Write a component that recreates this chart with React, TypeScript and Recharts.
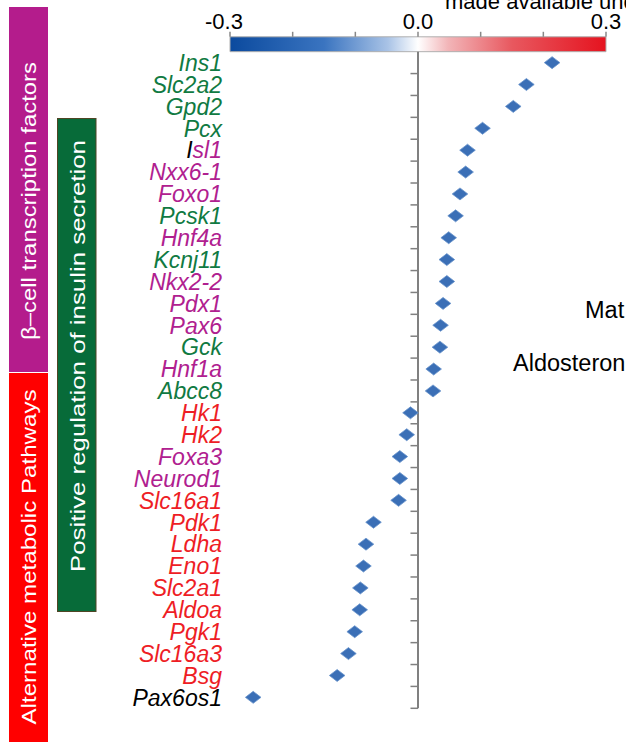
import React from 'react';
import {
  ScatterChart,
  Scatter,
  XAxis,
  YAxis,
  ReferenceArea,
  ReferenceLine,
} from 'recharts';

// genes from top to bottom
const genes = [
  'Ins1', 'Slc2a2', 'Gpd2', 'Pcx', 'Isl1', 'Nxx6-1', 'Foxo1', 'Pcsk1', 'Hnf4a', 'Kcnj11',
  'Nkx2-2', 'Pdx1', 'Pax6', 'Gck', 'Hnf1a', 'Abcc8', 'Hk1', 'Hk2', 'Foxa3', 'Neurod1',
  'Slc16a1', 'Pdk1', 'Ldha', 'Eno1', 'Slc2a1', 'Aldoa', 'Pgk1', 'Slc16a3', 'Bsg', 'Pax6os1',
];

const values = [
  0.214, 0.173, 0.152, 0.103, 0.079, 0.076, 0.067, 0.060, 0.049, 0.046,
  0.046, 0.040, 0.036, 0.035, 0.025, 0.024, -0.012, -0.018, -0.029, -0.029,
  -0.031, -0.071, -0.083, -0.087, -0.092, -0.093, -0.101, -0.111, -0.129, -0.263,
];

// g = insulin secretion, p = transcription factor, r = metabolic, k = other
const groups = [
  'g', 'g', 'g', 'g', 'p', 'p', 'p', 'g', 'p', 'g',
  'p', 'p', 'p', 'g', 'p', 'g', 'r', 'r', 'p', 'p',
  'r', 'r', 'r', 'r', 'r', 'r', 'r', 'r', 'r', 'k',
];

const colorTicks = [-0.3, -0.2, -0.1, 0, 0.1, 0.2, 0.3];
const colorTickLabels: Record<string, string> = { '-0.3': '-0.3', '0': '0.0', '0.3': '0.3' };

const groupColor: Record<string, string> = {
  g: '#107a42',
  p: '#b0208f',
  r: '#ee1d25',
  k: '#000000',
};

const FONT = '"Liberation Sans", Arial, sans-serif';

const points = genes.map((g, i) => ({ gene: g, x: values[i], y: i + 0.5 }));
const geneTicks = genes.map((_, i) => i + 0.5);
const boundaries = genes.map((_, i) => i + 1);

const GeneTick = (props: any) => {
  const { x, y, payload } = props;
  const i = Math.round(payload.value - 0.5);
  const name = genes[i];
  if (!name) return null;
  const col = groupColor[groups[i]];
  return (
    <text x={x} y={y} dy="0.36em" textAnchor="end" fontSize={23} fontStyle="italic" fontFamily={FONT} fill={col}>
      {name === 'Isl1' ? (
        <>
          <tspan fill="#000">I</tspan>
          <tspan>sl1</tspan>
        </>
      ) : (
        name
      )}
    </text>
  );
};

const ColorTick = (props: any) => {
  const { x, y, payload } = props;
  const label = colorTickLabels[String(payload.value)];
  if (!label) return null;
  return (
    <text x={x} y={y} dx={payload.value < 0 ? -6 : 0} textAnchor="middle" fontSize={22} fontFamily={FONT} fill="#000">
      {label}
    </text>
  );
};

const Diamond = (props: any) => {
  const { cx, cy } = props;
  if (cx == null || cy == null) return null;
  const w = 7.8;
  const h = 6;
  return (
    <polygon
      points={`${cx - w},${cy} ${cx},${cy - h} ${cx + w},${cy} ${cx},${cy + h}`}
      fill="#3b6fb6"
      stroke="#6a94cc"
      strokeWidth={0.8}
      strokeLinejoin="round"
    />
  );
};

export default function App() {
  return (
    <div style={{ position: 'absolute', left: 0, top: 0, width: 626, height: 742, background: '#fff', overflow: 'hidden' }}>
      <ScatterChart width={626} height={742} margin={{ top: 0, right: 20, bottom: 33.7, left: 10 }}>
        <defs>
          <linearGradient id="colorbar" x1="0" y1="0" x2="1" y2="0">
            <stop offset="0%" stopColor="#0b4a9e" />
            <stop offset="25%" stopColor="#3a74c0" />
            <stop offset="42%" stopColor="#a9c3e6" />
            <stop offset="50%" stopColor="#ffffff" />
            <stop offset="58%" stopColor="#f2b5b8" />
            <stop offset="75%" stopColor="#e8585f" />
            <stop offset="100%" stopColor="#e5131f" />
          </linearGradient>
        </defs>
        <XAxis
          type="number"
          dataKey="x"
          orientation="top"
          domain={[-0.3, 0.3]}
          ticks={colorTicks}
          interval={0}
          height={36.8}
          axisLine={false}
          tickLine={{ stroke: '#888', strokeWidth: 1.5 }}
          tickSize={5}
          tickMargin={3}
          tick={<ColorTick />}
        />
        <YAxis
          type="number"
          dataKey="y"
          domain={[-0.68, 30]}
          reversed
          ticks={geneTicks}
          interval={0}
          width={220}
          axisLine={false}
          tickLine={false}
          tickSize={0}
          tickMargin={8}
          tick={<GeneTick />}
        />
        <ReferenceArea
          x1={-0.3}
          x2={0.3}
          y1={-0.68}
          y2={0}
          fill="url(#colorbar)"
          fillOpacity={1}
          stroke="#b0b0b0"
          strokeWidth={1}
        />
        <ReferenceLine
          segment={[{ x: 0, y: 0 }, { x: 0, y: 30 }]}
          stroke="#808080"
          strokeWidth={2}
        />
        {boundaries.map((b) => (
          <ReferenceLine
            key={b}
            segment={[{ x: -0.012, y: b }, { x: 0, y: b }]}
            stroke="#808080"
            strokeWidth={1.5}
          />
        ))}
        <Scatter data={points} shape={<Diamond />} isAnimationActive={false} />
      </ScatterChart>

      <svg width={626} height={742} style={{ position: 'absolute', left: 0, top: 0, pointerEvents: 'none' }}>
        <rect x={9} y={7} width={39} height={365} fill="#b41c8c" />
        <rect x={9} y={373} width={39} height={369} fill="#ff0000" />
        <rect x={57.5} y={118.5} width={38.5} height={493} fill="#076b39" stroke="#4f4524" strokeWidth={1} />
        <text
          transform="translate(28.5,201) rotate(-90)"
          textAnchor="middle"
          dy="0.36em"
          fontSize={21}
          fontFamily={FONT}
          fill="#fff"
          textLength={278}
          lengthAdjust="spacingAndGlyphs"
        >
          β–cell transcription factors
        </text>
        <text
          transform="translate(28.5,557) rotate(-90)"
          textAnchor="middle"
          dy="0.36em"
          fontSize={21}
          fontFamily={FONT}
          fill="#fff"
          textLength={335}
          lengthAdjust="spacingAndGlyphs"
        >
          Alternative metabolic Pathways
        </text>
        <text
          transform="translate(77,356) rotate(-90)"
          textAnchor="middle"
          dy="0.36em"
          fontSize={21}
          fontFamily={FONT}
          fill="#fff"
          textLength={432}
          lengthAdjust="spacingAndGlyphs"
        >
          Positive regulation of insulin secretion
        </text>
        <text x={445} y={9} fontSize={22} fontFamily={FONT} fill="#000">made available und</text>
        <text x={585} y={318} fontSize={23.5} fontFamily={FONT} fill="#000">Mat</text>
        <text x={513} y={371} fontSize={23.5} fontFamily={FONT} fill="#000">Aldosteron</text>
      </svg>
    </div>
  );
}
